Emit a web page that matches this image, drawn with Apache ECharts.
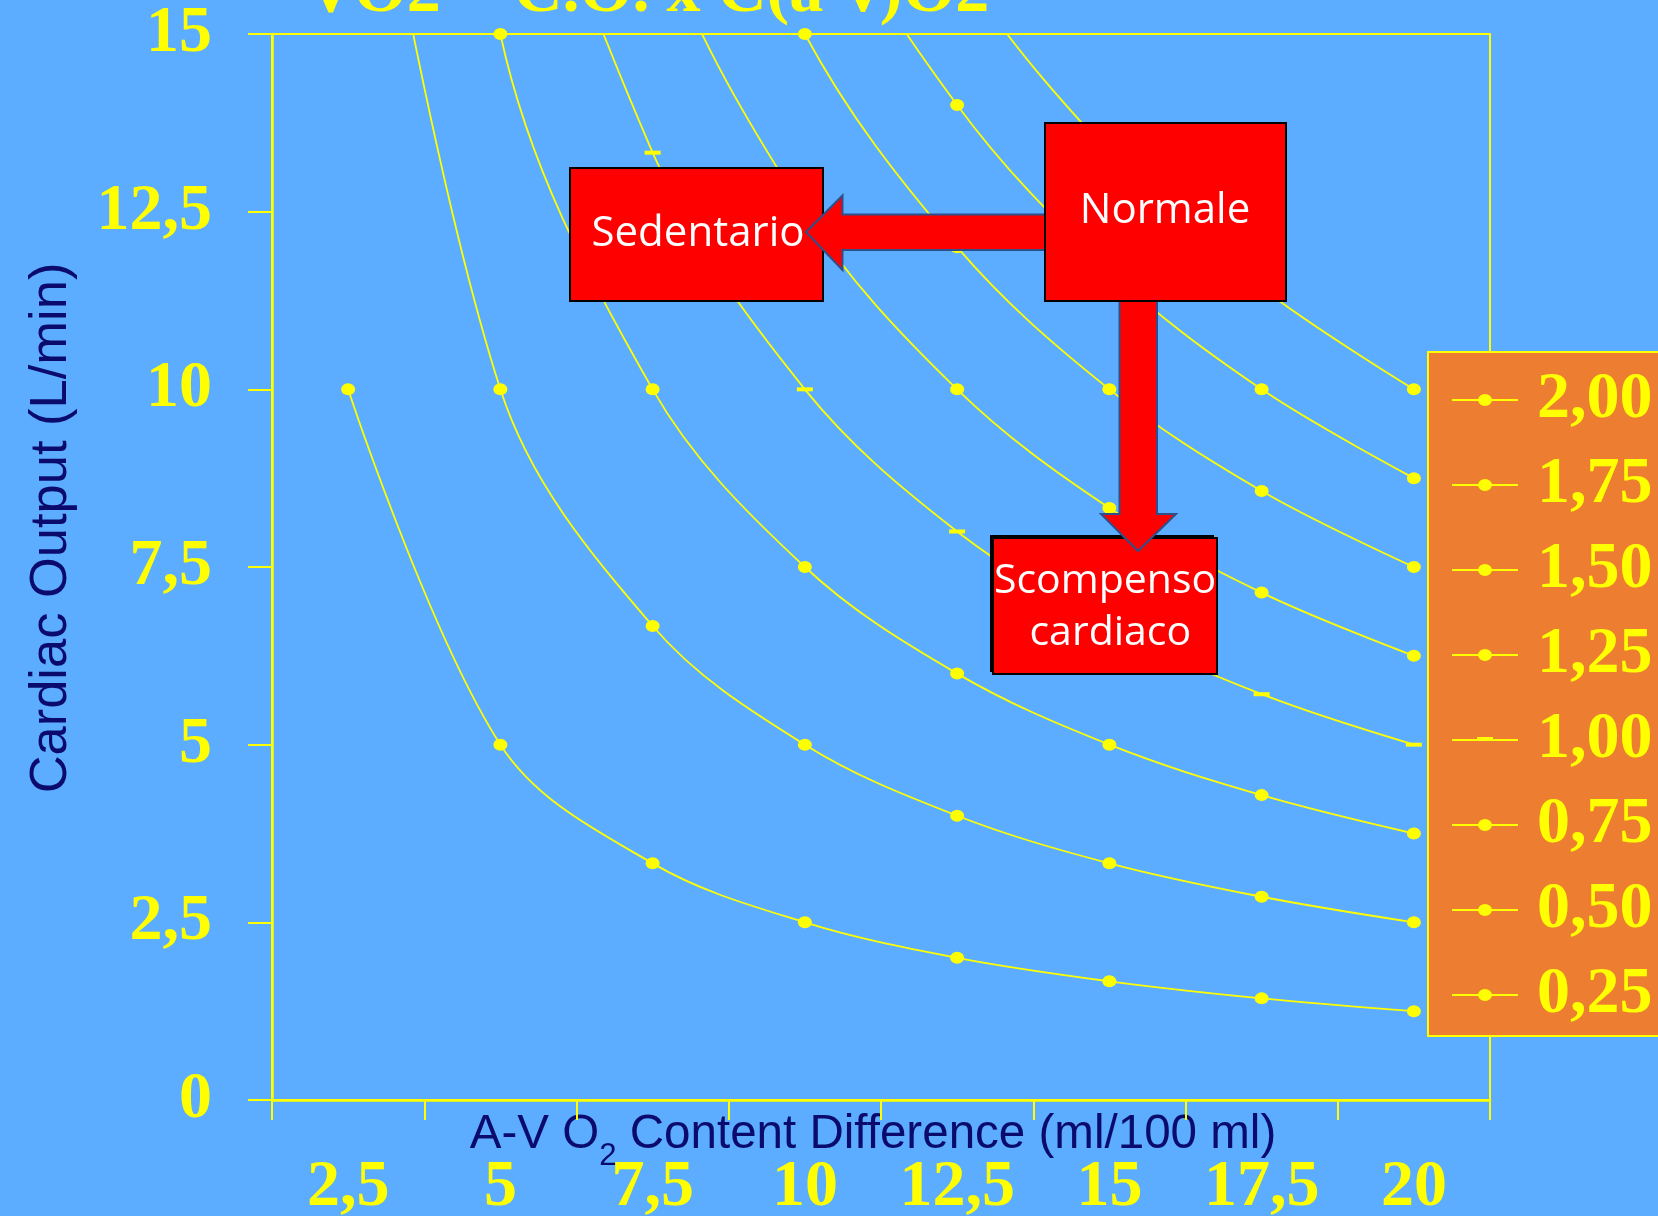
<!DOCTYPE html>
<html>
<head>
<meta charset="utf-8">
<script src="https://cdn.jsdelivr.net/npm/echarts@6/dist/echarts.min.js"></script>
<style>
  html, body { margin: 0; padding: 0; background: #5CACFF; }
  #chart { width: 1658px; height: 1216px; }
</style>
</head>
<body>
<div id="chart"></div>
<script>
// A-V O2 content difference categories (ml/100 ml)
const avDiffCategories = ['2,5', '5', '7,5', '10', '12,5', '15', '17,5', '20'];
// Cardiac output tick labels (L/min)
const coTickLabels = ['0', '2,5', '5', '7,5', '10', '12,5', '15'];

// Cardiac output (L/min) along each VO2 isopleth, one value per category
const vo2_025 = [10, 5, 3.33, 2.5, 2, 1.67, 1.43, 1.25];
const vo2_050 = [20, 10, 6.67, 5, 4, 3.33, 2.86, 2.5];
const vo2_075 = [30, 15, 10, 7.5, 6, 5, 4.29, 3.75];
const vo2_100 = [40, 20, 13.33, 10, 8, 6.67, 5.71, 5];
const vo2_125 = [50, 25, 16.67, 12.5, 10, 8.33, 7.14, 6.25];
const vo2_150 = [60, 30, 20, 15, 12, 10, 8.57, 7.5];
const vo2_175 = [70, 35, 23.33, 17.5, 14, 11.67, 10, 8.75];
const vo2_200 = [80, 40, 26.67, 20, 16, 13.33, 11.43, 10];

const isoplethNames = ['0,25', '0,50', '0,75', '1,00', '1,25', '1,50', '1,75', '2,00'];
const isoplethValues = [vo2_025, vo2_050, vo2_075, vo2_100, vo2_125, vo2_150, vo2_175, vo2_200];

const YELLOW = '#FFFF00';
const NAVY = '#0B0B6E';
const SERIF = "'Liberation Serif', 'Times New Roman', serif";

// Prefer a narrow sans for the axis titles; fall back to a scaled regular one
function hasFont(name) {
  const ctx = document.createElement('canvas').getContext('2d');
  ctx.font = '40px monospace';
  const w0 = ctx.measureText('Cardiac Output (L/min)').width;
  ctx.font = '40px "' + name + '", monospace';
  return ctx.measureText('Cardiac Output (L/min)').width !== w0;
}
const narrow = hasFont('Liberation Sans Narrow');
const SANS = narrow ? "'Liberation Sans Narrow', 'Arial Narrow', sans-serif" : "'Liberation Sans', Arial, sans-serif";
const k = narrow ? 1 : 0.82;

const DOT_ICON = 'path://M0,5H66V7H0Z M26,6A7,6,0,1,1,40,6A7,6,0,1,1,26,6Z';
const DASH_ICON = 'path://M0,0H0.1V0.1H0Z M0,5H66V7H0Z M25,3H41V6H25Z M65.9,11.9H66V12H65.9Z';
const DOT_MARK = 'path://M0,6A7,6,0,1,1,14,6A7,6,0,1,1,0,6Z';

const chart = echarts.init(document.getElementById('chart'));

chart.setOption({
  animation: false,
  backgroundColor: '#5CACFF',
  title: {
    text: 'VO2 = C.O. x C(a-v)O2',
    left: 306,
    top: -41,
    padding: 0,
    textStyle: { color: YELLOW, fontFamily: SERIF, fontWeight: 'bold', fontSize: 68 }
  },
  grid: {
    left: 272, right: 168, top: 34, bottom: 116,
    outerBoundsMode: 'none',
    containLabel: false,
    show: true, borderColor: YELLOW, borderWidth: 2, backgroundColor: 'transparent'
  },
  legend: {
    orient: 'vertical',
    left: 1428,
    top: 352,
    padding: [15, 40, 8, 24],
    itemGap: 19,
    itemWidth: 66,
    itemHeight: 12,
    backgroundColor: '#ED7D31',
    borderColor: YELLOW,
    borderWidth: 2,
    selectedMode: false,
    itemStyle: { color: YELLOW, borderWidth: 0 },
    textStyle: { color: YELLOW, fontFamily: SERIF, fontWeight: 'bold', fontSize: 66, padding: [0, 0, 0, 14] },
    data: isoplethNames.slice().reverse().map(n => ({ name: n, icon: n === '1,00' ? DASH_ICON : DOT_ICON }))
  },
  xAxis: {
    type: 'category',
    data: avDiffCategories,
    boundaryGap: true,
    name: '{a|A-V O}{s|2}{a| Content Difference (ml/100 ml)}',
    nameLocation: 'middle',
    nameGap: 11,
    nameMoveOverlap: false,
    nameTextStyle: {
      padding: [0, 16, 0, 0],
      rich: {
        a: { fontFamily: SANS, fontSize: 58 * k, lineHeight: 58, color: NAVY, verticalAlign: 'top' },
        s: { fontFamily: SANS, fontSize: 38 * k, lineHeight: 38, color: NAVY, verticalAlign: 'top', padding: [30, 0, 0, 0] }
      }
    },
    axisLine: { lineStyle: { color: YELLOW, width: 2.5 } },
    axisTick: { show: true, interval: 0, length: 20, lineStyle: { color: YELLOW, width: 2 } },
    axisLabel: {
      interval: 0, margin: 55,
      color: YELLOW, fontFamily: SERIF, fontWeight: 'bold', fontSize: 66
    },
    splitLine: { show: false }
  },
  yAxis: {
    type: 'value',
    min: 0, max: 15, interval: 2.5,
    name: 'Cardiac Output (L/min)',
    nameLocation: 'middle',
    nameGap: 194,
    nameMoveOverlap: false,
    nameTextStyle: { color: NAVY, fontFamily: SANS, fontSize: 64 * k, padding: [0, 0, 0, 78] },
    axisLine: { show: true, lineStyle: { color: YELLOW, width: 2.5 } },
    axisTick: { show: true, length: 24, lineStyle: { color: YELLOW, width: 2 } },
    axisLabel: {
      margin: 60,
      color: YELLOW, fontFamily: SERIF, fontWeight: 'bold', fontSize: 66,
      formatter: v => coTickLabels[Math.round(v / 2.5)]
    },
    splitLine: { show: false }
  },
  series: isoplethValues.map((vals, i) => ({
    name: isoplethNames[i],
    type: 'line',
    data: vals,
    smooth: 0.35,
    clip: true,
    silent: true,
    symbol: isoplethNames[i] === '1,00' ? 'rect' : DOT_MARK,
    symbolSize: isoplethNames[i] === '1,00' ? [16, 4] : [14, 12],
    lineStyle: { color: YELLOW, width: 1.8 },
    itemStyle: { color: YELLOW, borderWidth: 0 },
    emphasis: { disabled: true }
  })),
  graphic: [
    // Sedentario box
    { type: 'rect', z: 10, shape: { x: 570, y: 168, width: 253, height: 133 },
      style: { fill: '#FF0000', stroke: '#000', lineWidth: 2 } },
    { type: 'text', z: 10, x: 698, y: 234,
      style: { text: 'Sedentario', align: 'center', verticalAlign: 'middle', fill: '#fff',
               font: '42px "Comic Sans MS", "Open Sans", sans-serif' } },
    // arrow Normale -> Sedentario
    { type: 'polygon', z: 11,
      shape: { points: [[806, 232], [842.5, 195.5], [842.5, 214.5], [1046, 214.5], [1046, 250], [842.5, 250], [842.5, 270]] },
      style: { fill: '#FF0000', stroke: '#2F4F8A', lineWidth: 2 } },
    // Scompenso cardiaco box
    { type: 'rect', z: 10, shape: { x: 990, y: 535, width: 224, height: 137 },
      style: { fill: '#000' } },
    { type: 'rect', z: 10, shape: { x: 993, y: 538, width: 224, height: 136 },
      style: { fill: '#FF0000', stroke: '#000', lineWidth: 2 } },
    { type: 'text', z: 10, x: 1105, y: 607,
      style: { text: 'Scompenso\n cardiaco', align: 'center', verticalAlign: 'middle', fill: '#fff',
               lineHeight: 52, font: '41px "Comic Sans MS", "Open Sans", sans-serif' } },
    // arrow Normale -> Scompenso
    { type: 'polygon', z: 11,
      shape: { points: [[1138, 551], [1101, 514], [1119.5, 514], [1119.5, 300], [1157, 300], [1157, 514], [1176, 514]] },
      style: { fill: '#FF0000', stroke: '#2F4F8A', lineWidth: 2 } },
    // Normale box
    { type: 'rect', z: 12, shape: { x: 1045, y: 123, width: 241, height: 178 },
      style: { fill: '#FF0000', stroke: '#000', lineWidth: 2 } },
    { type: 'text', z: 12, x: 1165, y: 211,
      style: { text: 'Normale', align: 'center', verticalAlign: 'middle', fill: '#fff',
               font: '42px "Comic Sans MS", "Open Sans", sans-serif' } }
  ]
});
</script>
</body>
</html>
